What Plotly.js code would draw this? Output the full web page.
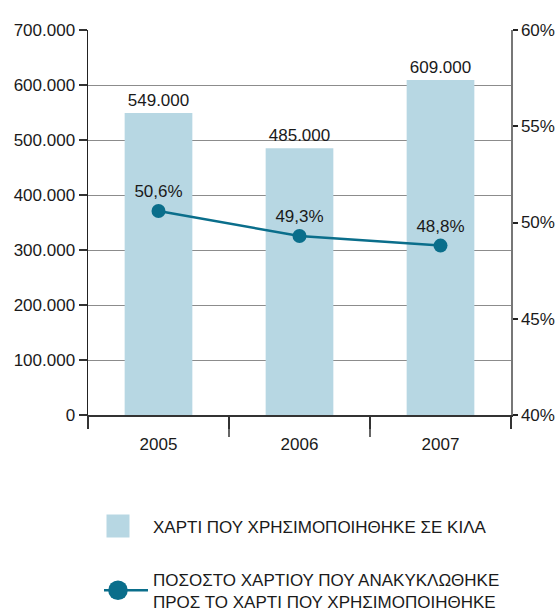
<!DOCTYPE html>
<html>
<head>
<meta charset="utf-8">
<script src="https://cdn.plot.ly/plotly-3.0.1.min.js"></script>
<style>
  body { margin: 0; background: #fff; }
  #chart { width: 557px; height: 613px; }
</style>
</head>
<body>
<div id="chart"></div>
<script>
// data
const years = ['2005', '2006', '2007'];
const paperKg = [549000, 485000, 609000];
const recycledPct = [50.6, 49.3, 48.8];

const barName = 'ΧΑΡΤΙ ΠΟΥ ΧΡΗΣΙΜΟΠΟΙΗΘΗΚΕ ΣΕ ΚΙΛΑ';
const lineName = 'ΠΟΣΟΣΤΟ ΧΑΡΤΙΟΥ ΠΟΥ ΑΝΑΚΥΚΛΩΘΗΚΕ<br>ΠΡΟΣ ΤΟ ΧΑΡΤΙ ΠΟΥ ΧΡΗΣΙΜΟΠΟΙΗΘΗΚΕ';

const FONT = '"Liberation Sans", Arial, sans-serif';
const BAR_COLOR = '#b7d7e3';
const LINE_COLOR = '#0a6e8b';

function drawChart() {
  let bars = {
    x: years,
    y: paperKg,
    type: 'bar',
    name: barName,
    legendgroup: 'a',
    marker: {color: BAR_COLOR},
    texttemplate: '%{y:,d}',
    textposition: 'outside',
    constraintext: 'none',
    cliponaxis: false,
    textfont: {family: FONT, size: 17, color: '#1a1a1a'},
    hoverinfo: 'skip'
  };
  let line = {
    x: years,
    y: recycledPct,
    yaxis: 'y2',
    type: 'scatter',
    mode: 'lines+markers+text',
    name: lineName,
    legendgroup: 'b',
    line: {color: LINE_COLOR, width: 2.5},
    marker: {color: LINE_COLOR, size: 14},
    texttemplate: '%{y:.1f}%',
    textposition: 'top center',
    cliponaxis: false,
    textfont: {family: FONT, size: 17, color: '#1a1a1a'},
    hoverinfo: 'skip'
  };

  // longer tick marks between the year categories
  let shapes = [];
  for (let i = 1; i < years.length; i++) {
    shapes.push({
      type: 'line', xref: 'x', yref: 'paper',
      x0: i - 0.5, x1: i - 0.5, y0: 0, y1: -22 / 385,
      line: {color: '#333', width: 1.5}
    });
  }

  let layout = {
    width: 557,
    height: 613,
    margin: {l: 88, r: 46, t: 30, b: 198, autoexpand: false},
    separators: ',.',
    font: {family: FONT, size: 17, color: '#1a1a1a'},
    paper_bgcolor: '#fff',
    plot_bgcolor: '#fff',
    bargap: 0.52,
    showlegend: true,
    legend: {
      x: 0.026, y: -0.243, xanchor: 'left', yanchor: 'top',
      traceorder: 'grouped', tracegroupgap: 28, itemwidth: 44,
      font: {family: FONT, size: 17, color: '#1a1a1a'}
    },
    xaxis: {
      type: 'category',
      ticks: 'outside', tickson: 'boundaries', ticklen: 12,
      tickcolor: '#333', tickwidth: 1.5, ticklabelstandoff: 13,
      showline: true, linecolor: '#333', linewidth: 1.5,
      showgrid: false, fixedrange: true
    },
    yaxis: {
      range: [0, 700000], dtick: 100000, tickformat: ',d',
      ticks: 'outside', ticklen: 8, tickcolor: '#333', tickwidth: 1.5,
      showline: true, linecolor: '#222', linewidth: 1.5,
      gridcolor: '#8c8c8c', gridwidth: 1, zeroline: false
    },
    yaxis2: {
      overlaying: 'y', side: 'right',
      range: [40, 60], dtick: 5, ticksuffix: '%',
      ticks: 'outside', ticklen: 5, tickcolor: '#222', tickwidth: 2,
      showline: true, linecolor: '#777', linewidth: 1.5,
      showgrid: false, zeroline: false
    },
    shapes: shapes
  };

  Plotly.newPlot('chart', [bars, line], layout, {staticPlot: true}).then(function(gd) {
    // the reference draws bigger legend symbols, a little further left
    let groups = gd.querySelectorAll('.legend g.legendpoints');
    groups.forEach(function(g) {
      g.setAttribute('transform', 'translate(-8,0)');
    });
    if (groups.length) {
      groups[0].querySelectorAll('path').forEach(function(p) {
        p.setAttribute('d', 'M11.5,11.5H-11.5V-11.5H11.5Z');
      });
    }
    gd.querySelectorAll('.legend path.scatterpts').forEach(function(p) {
      let t = p.getAttribute('transform') || '';
      p.setAttribute('transform', t + ' scale(1.4)');
    });
  });
}

drawChart();
</script>
</body>
</html>
